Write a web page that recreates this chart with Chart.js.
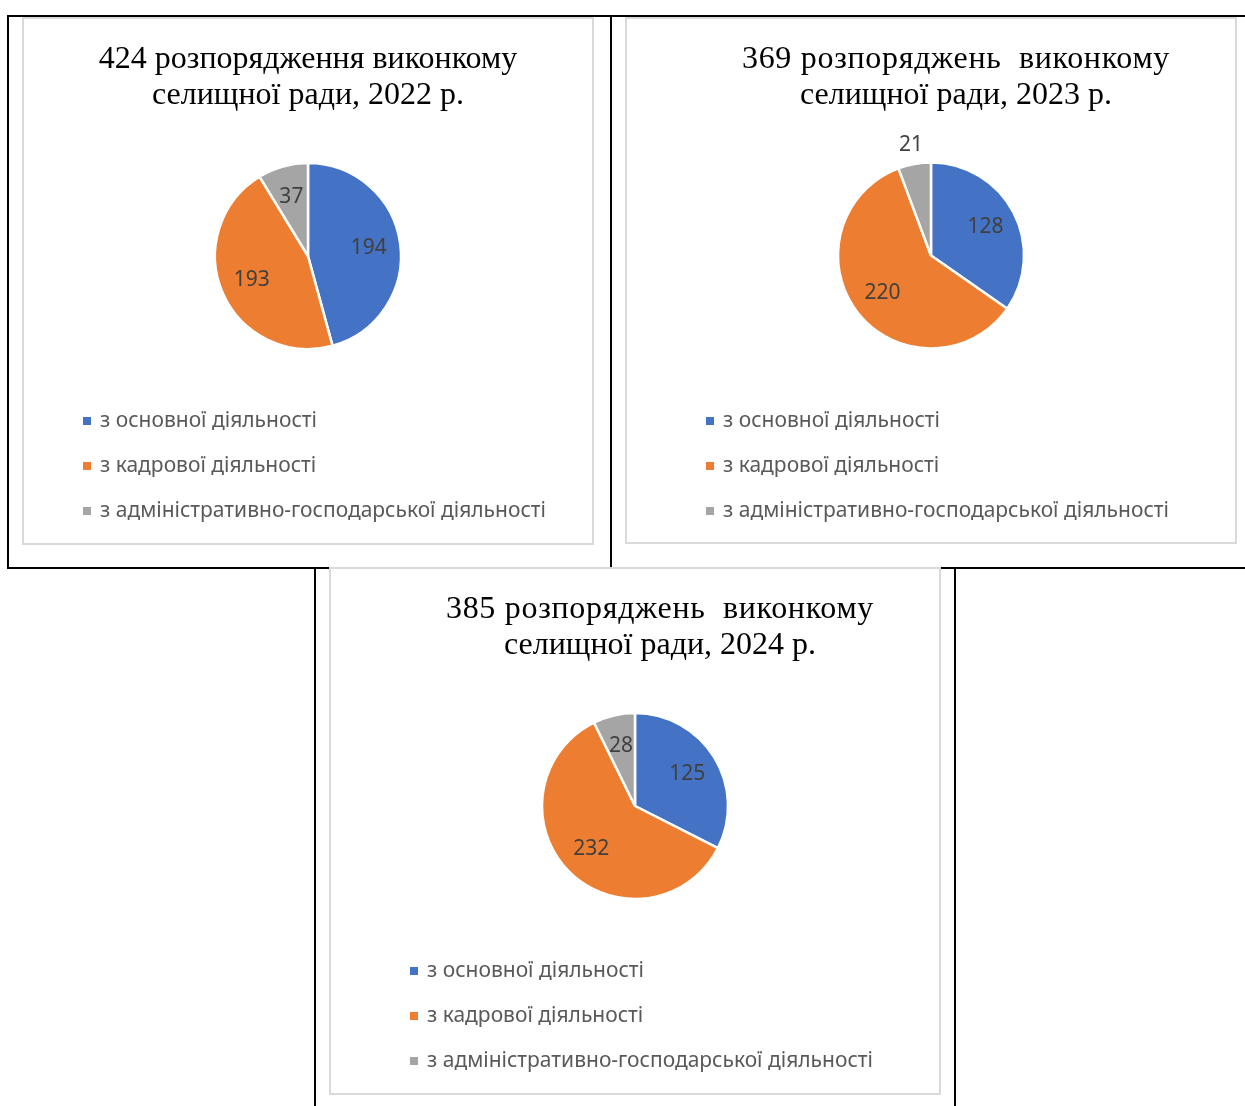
<!DOCTYPE html>
<html>
<head>
<meta charset="utf-8">
<script src="https://cdn.jsdelivr.net/npm/chart.js@4.4.1/dist/chart.umd.min.js"></script>
<style>
  html, body { margin: 0; padding: 0; background: #fff; }
  body { position: relative; width: 1245px; height: 1106px; overflow: hidden; }
  .rule { position: absolute; background: #000; }
  .panel { position: absolute; box-sizing: border-box; border: 2px solid #d9d9d9; background: #fff; }
  .panel canvas { display: block; }
</style>
</head>
<body>
<!-- table frame around the three charts -->
<div class="rule" style="left:7px;top:15px;width:1238px;height:2px"></div>
<div class="rule" style="left:7px;top:15px;width:2px;height:554px"></div>
<div class="rule" style="left:610px;top:15px;width:2px;height:554px"></div>
<div class="rule" style="left:7px;top:567px;width:322px;height:2px"></div>
<div class="rule" style="left:940px;top:567px;width:305px;height:2px"></div>
<div class="rule" style="left:314px;top:567px;width:2px;height:539px"></div>
<div class="rule" style="left:954px;top:567px;width:2px;height:539px"></div>

<div class="panel" style="left:22px;top:17px;width:572px;height:528px"><canvas id="c2022" width="568" height="524"></canvas></div>
<div class="panel" style="left:625px;top:17px;width:612px;height:527px"><canvas id="c2023" width="608" height="523"></canvas></div>
<div class="panel" style="left:329px;top:567px;width:612px;height:528px"><canvas id="c2024" width="608" height="524"></canvas></div>

<script>
// Categories of orders
const categories = [
  'з основної діяльності',
  'з кадрової діяльності',
  'з адміністративно-господарської діяльності'
];

// Number of orders per category
const values2022 = [194, 193, 37];
const values2023 = [128, 220, 21];
const values2024 = [125, 232, 28];

// Chart titles (two lines each)
const title2022 = ['424 розпорядження виконкому', 'селищної ради, 2022 р.'];
const title2023 = ['369 розпоряджень  виконкому', 'селищної ради, 2023 р.'];
const title2024 = ['385 розпоряджень  виконкому', 'селищної ради, 2024 р.'];

const sliceColors = ['#4472C4', '#ED7D31', '#A5A5A5'];

// Draws text with an optional horizontal squeeze
function fillTextScaled(ctx, text, x, y, sx) {
  ctx.save();
  ctx.translate(x, y);
  ctx.scale(sx, 1);
  ctx.fillText(text, 0, 0);
  ctx.restore();
}

// Title, value labels and a vertical legend drawn around the pie
const pieDecor = {
  id: 'pieDecor',
  afterDatasetsDraw(chart, args, o) {
    const ctx = chart.ctx;
    const meta = chart.getDatasetMeta(0);
    const values = chart.data.datasets[0].data;
    ctx.save();
    ctx.fillStyle = o.labelColor;
    ctx.font = o.labelFont;
    ctx.textAlign = 'center';
    ctx.textBaseline = 'middle';
    meta.data.forEach((arc, i) => {
      const span = arc.endAngle - arc.startAngle;
      const mid = (arc.startAngle + arc.endAngle) / 2;
      const f = span < o.minInsideAngle ? o.outsideRadius : o.insideRadius;
      const x = arc.x + Math.cos(mid) * arc.outerRadius * f;
      const y = arc.y + Math.sin(mid) * arc.outerRadius * f;
      fillTextScaled(ctx, String(values[i]), x, y, o.labelScaleX);
    });
    ctx.restore();
  },
  afterDraw(chart, args, o) {
    const ctx = chart.ctx;
    const arc0 = chart.getDatasetMeta(0).data[0];
    const cx = arc0.x;
    // title
    o.title.forEach((line, i) => {
      ctx.save();
      ctx.fillStyle = '#000';
      ctx.font = o.titleFont;
      ctx.textAlign = 'center';
      ctx.textBaseline = 'alphabetic';
      ctx.letterSpacing = (o.titleTracking[i] || 0) + 'px';
      fillTextScaled(ctx, line, cx + o.titleShift, o.titleTop + i * o.titleLeading, o.titleScaleX);
      ctx.restore();
    });
    // legend
    ctx.save();
    ctx.font = o.legendFont;
    ctx.textAlign = 'left';
    ctx.textBaseline = 'middle';
    chart.data.labels.forEach((label, i) => {
      const y = o.legendTop + i * o.legendStep;
      const x = cx + o.legendShift;
      ctx.fillStyle = chart.data.datasets[0].backgroundColor[i];
      ctx.fillRect(x, y - 4, 8, 8);
      ctx.fillStyle = o.legendColor;
      fillTextScaled(ctx, label, x + 17, y, o.legendScaleX);
    });
    ctx.restore();
  }
};

function makePie(id, values, title, titleShift, titleTracking) {
  return new Chart(document.getElementById(id), {
    type: 'pie',
    data: {
      labels: categories,
      datasets: [{
        data: values,
        backgroundColor: sliceColors,
        borderColor: '#ffffff',
        borderWidth: 2.5
      }]
    },
    options: {
      responsive: false,
      animation: false,
      radius: 93,
      layout: { padding: { top: 100, bottom: 150, left: 0, right: 0 } },
      plugins: {
        legend: { display: false },
        title: { display: false },
        tooltip: { enabled: false },
        pieDecor: {
          title: title,
          titleFont: '32px "Liberation Serif", "Times New Roman", serif',
          titleScaleX: 1,
          titleShift: titleShift,
          titleTracking: titleTracking,
          titleTop: 49,
          titleLeading: 36,
          labelFont: '21px "Noto Sans", sans-serif',
          labelColor: '#404040',
          labelScaleX: 1,
          insideRadius: 0.66,
          outsideRadius: 1.21,
          minInsideAngle: 0.4,
          legendFont: '21px "Noto Sans", sans-serif',
          legendColor: '#595959',
          legendScaleX: 1,
          legendShift: -225,
          legendTop: 402,
          legendStep: 45
        }
      }
    },
    plugins: [pieDecor]
  });
}

makePie('c2022', values2022, title2022, 0, [0, 0]);
makePie('c2023', values2023, title2023, 25, [0.7, 0]);
makePie('c2024', values2024, title2024, 25, [0.7, 0]);
</script>
</body>
</html>
